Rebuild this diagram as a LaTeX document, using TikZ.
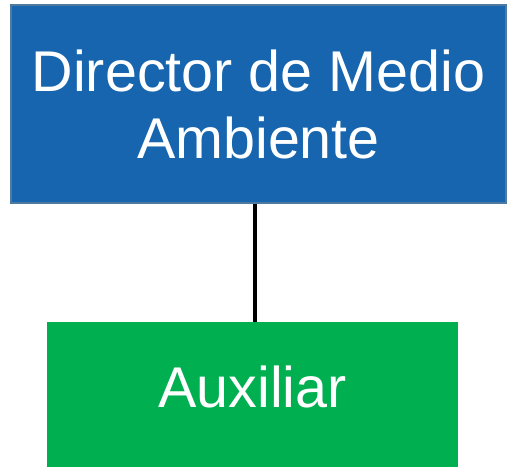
\documentclass[tikz,border=0pt]{standalone}
\usepackage{fontspec}
\setmainfont{Liberation Sans}
\usepackage{tikz}
\usetikzlibrary{positioning, calc}
\definecolor{dirblue}{RGB}{22,101,174}
\definecolor{dirborder}{RGB}{78,122,160}
\definecolor{auxgreen}{RGB}{0,176,80}
\tikzstyle{Link} = [
%plain connector between the two boxes:
black, line width = 2.3pt
]

\begin{document}
\begin{tikzpicture}[
				director/.style = {rectangle, fill = dirblue, draw = dirborder, line width = 0.6pt, text = white, align = center, minimum width = 9.9cm, minimum height = 3.96cm, inner sep = 0pt, font = \fontsize{32.7}{38.1}\selectfont},
				auxiliar/.style = {rectangle, fill = auxgreen, text = white, minimum width = 8.22cm, minimum height = 2.9cm, inner sep = 0pt, text height = 0.9cm, text depth = 0.4cm, font = \fontsize{32.7}{38.1}\selectfont},
			]
			\useasboundingbox (0,0) rectangle (10.2,-9.34);
			\node[director](DIR) at (5.17,-2.08){Director de Medio\\Ambiente};
			\node[auxiliar](AUX) at (5.05,-7.89){Auxiliar};

			\draw[Link](DIR.south -| 5.1,0)--(AUX.north -| 5.1,0);

		\end{tikzpicture}
\end{document}
